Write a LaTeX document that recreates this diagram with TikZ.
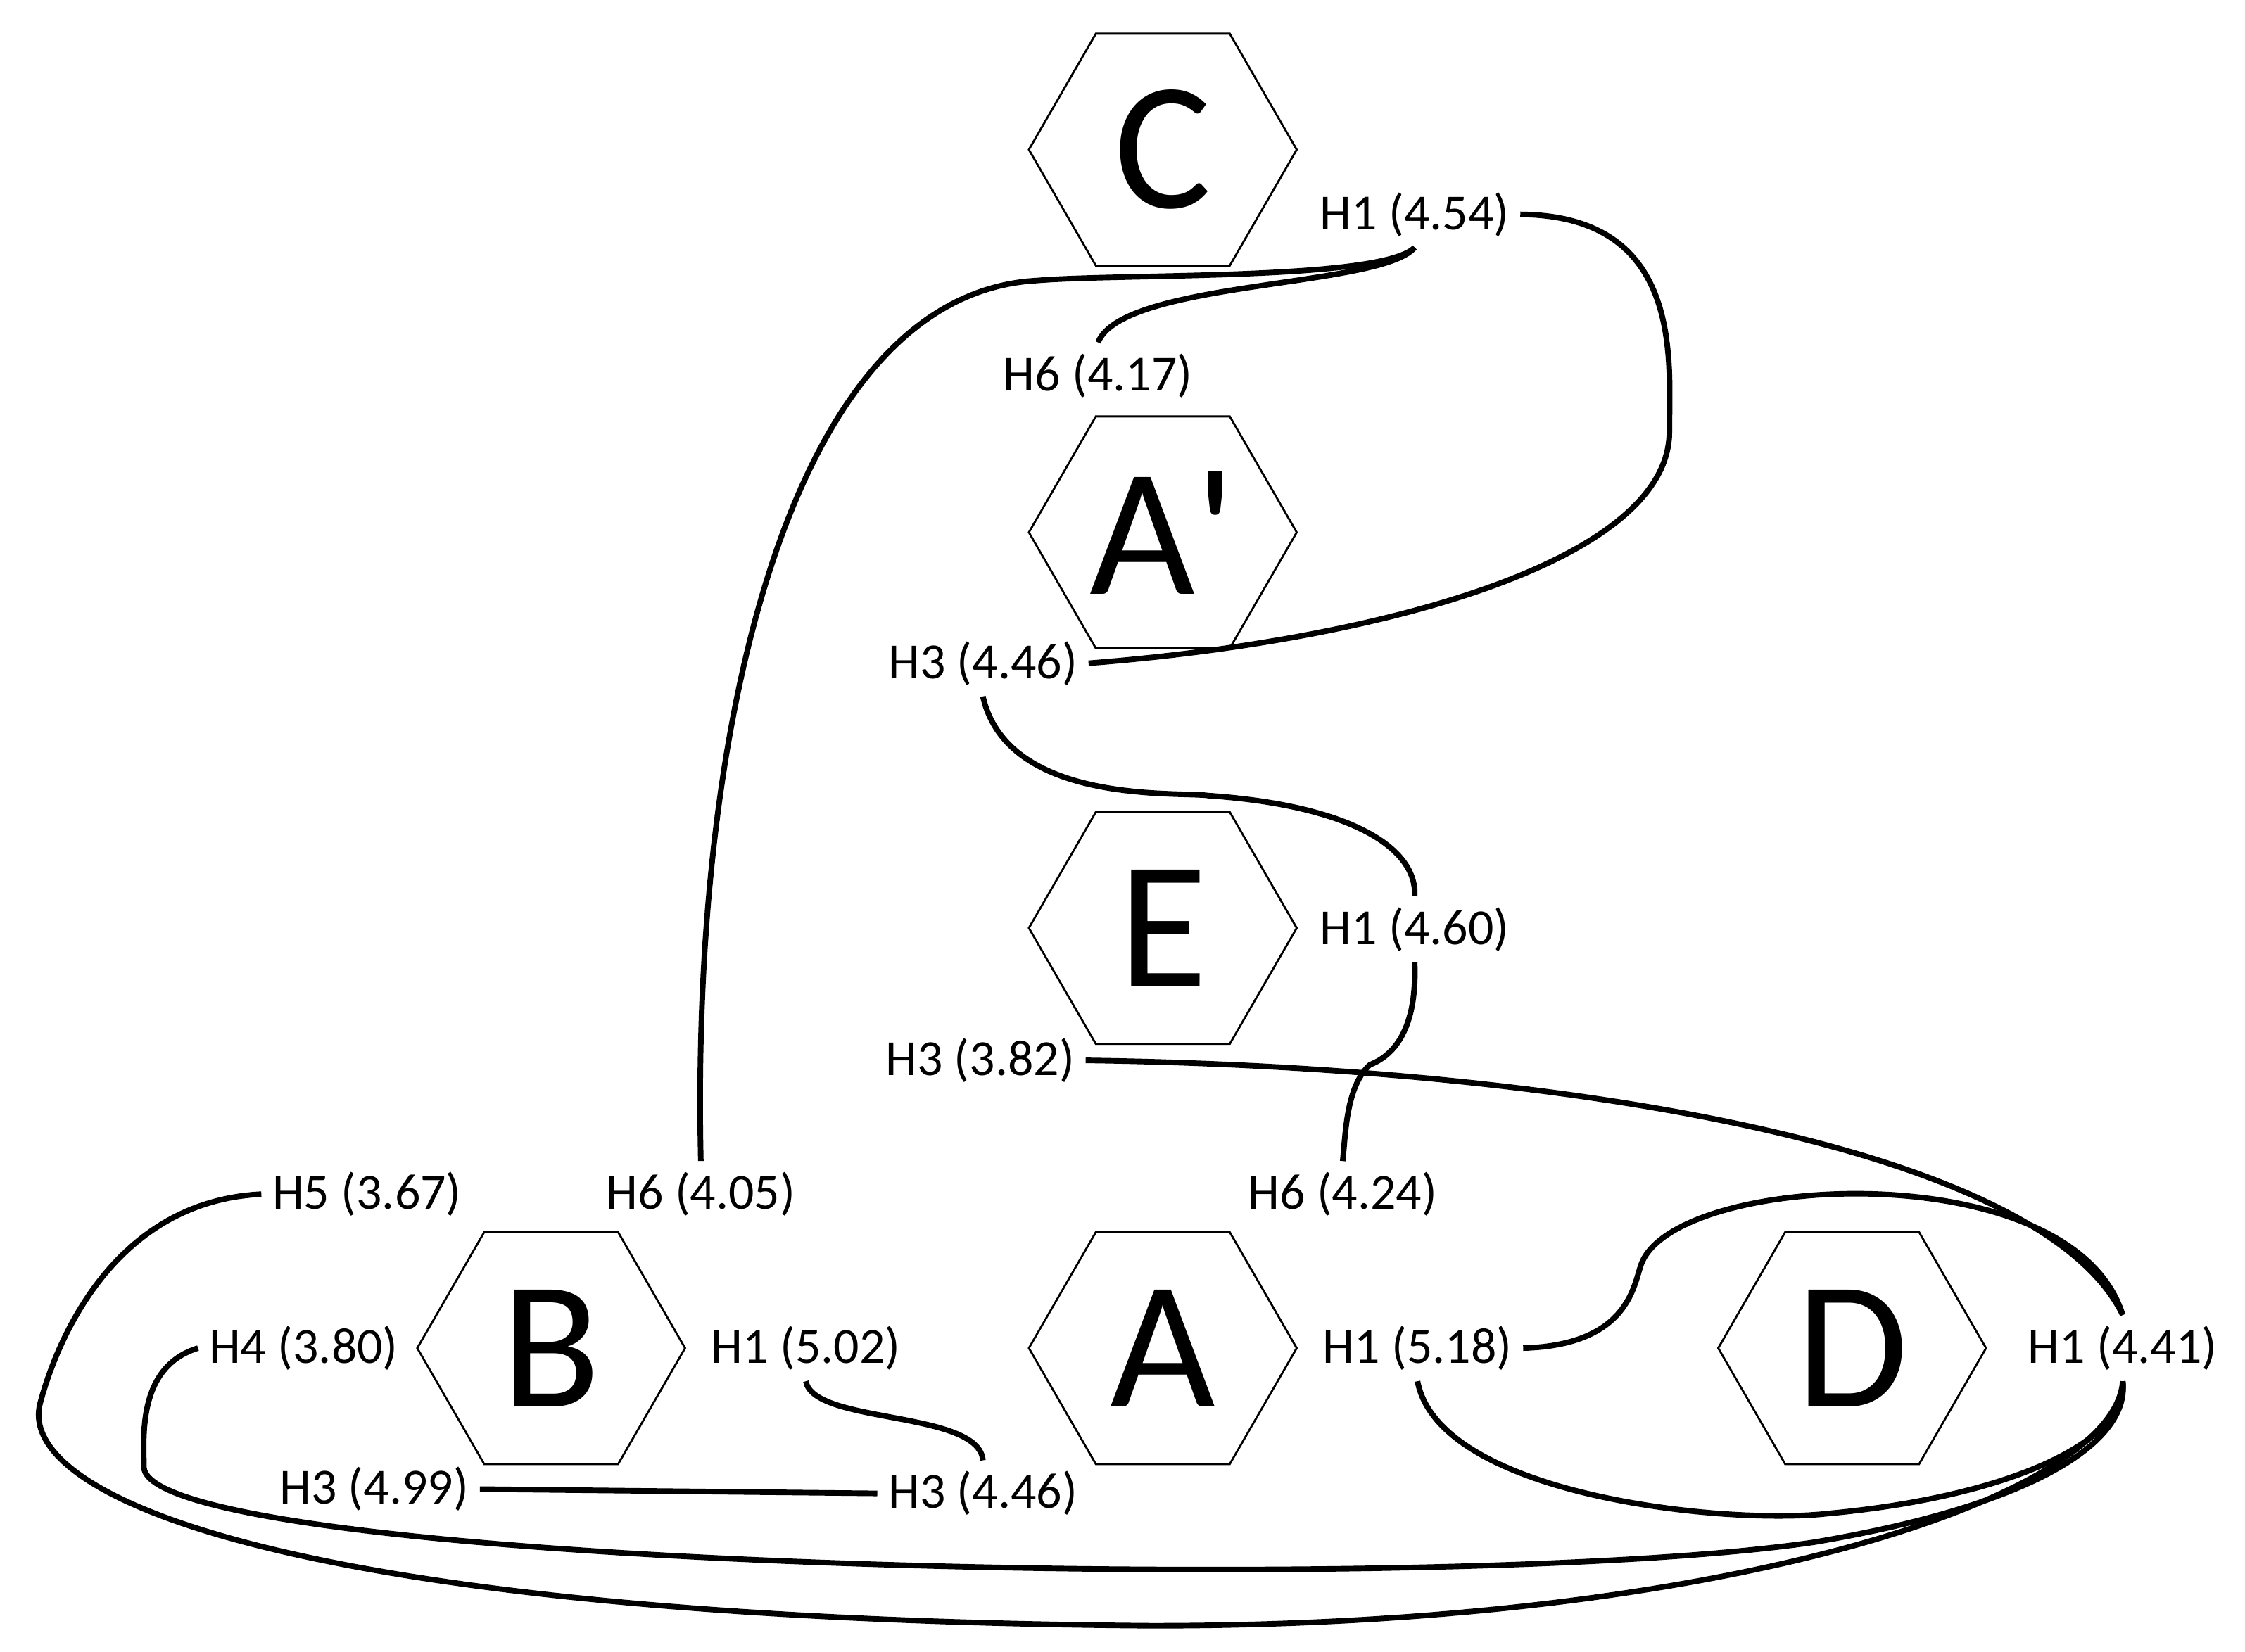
\documentclass[tikz,border=0pt]{standalone}
\usepackage{fontspec}
\setmainfont{Carlito}
\usetikzlibrary{shapes.geometric}
\begin{document}
\begin{tikzpicture}
[x=0.01cm,y=-0.01cm,
ringnode/.style={regular polygon,regular polygon sides=6,draw,thin,
minimum size=1.86cm,inner sep=0pt,font=\fontsize{36pt}{36pt}\selectfont},
hnode/.style={inner sep=2pt,font=\fontsize{10pt}{12pt}\selectfont},
noe/.style={line width=1.1pt}
]
\useasboundingbox (0,0) rectangle (1560,1148);
% rings
\node [ringnode] (C) at (808,104) {C};
\node [ringnode] (Ap) at (808,370) {A\textquotesingle};
\node [ringnode] (E) at (808,645) {E};
\node [ringnode] (B) at (383,937) {B};
\node [ringnode] (A) at (808,937) {A};
\node [ringnode] (D) at (1287,937) {D};
% protons
\node [hnode] (C1) at (983,149) {H1 (4.54)};
\node [hnode] (Ap6) at (763,261) {H6 (4.17)};
\node [hnode] (Ap3) at (683,461) {H3 (4.46)};
\node [hnode] (E1) at (983,646) {H1 (4.60)};
\node [hnode] (E3) at (681,737) {H3 (3.82)};
\node [hnode] (B5) at (255,830) {H5 (3.67)};
\node [hnode] (B6) at (487,830) {H6 (4.05)};
\node [hnode] (A6) at (933,830) {H6 (4.24)};
\node [hnode] (B4) at (211,937) {H4 (3.80)};
\node [hnode] (B1) at (560,937) {H1 (5.02)};
\node [hnode] (A1) at (985,937) {H1 (5.18)};
\node [hnode] (D1) at (1475,937) {H1 (4.41)};
\node [hnode] (B3) at (260,1035) {H3 (4.99)};
\node [hnode] (A3) at (683,1038) {H3 (4.46)};
% contacts
\draw [noe] (C1.east) .. controls (1170,150) and (1160,250) .. (1160,300)
.. controls (1160,390) and (960,445) .. (Ap3.east);
\draw [noe] (C1.south) .. controls (960,200) and (780,195) .. (Ap6.north);
\draw [noe] (C1.south) .. controls (960,195) and (780,190) .. (720,195)
.. controls (550,205) and (480,500) .. (B6.north);
\draw [noe] (Ap3.south) .. controls (700,560) and (820,550) .. (840,553)
.. controls (940,560) and (985,590) .. (E1.north);
\draw [noe] (E1.south) .. controls (985,720) and (965,735) .. (952,740)
.. controls (935,755) and (935,790) .. (A6.north);
\draw [noe] (E3.east) .. controls (1100,742) and (1420,800) .. (D1.north);
\draw [noe] (A1.east) .. controls (1130,935) and (1135,895) .. (1140,880)
.. controls (1160,815) and (1440,800) .. (D1.north);
\draw [noe] (A1.south) .. controls (1000,1040) and (1200,1060) .. (1270,1052)
.. controls (1400,1040) and (1480,1000) .. (D1.south);
\draw [noe] (B4.west) .. controls (95,950) and (100,1000) .. (100,1020)
.. controls (105,1090) and (1000,1110) .. (1260,1072)
.. controls (1420,1045) and (1480,1000) .. (D1.south);
\draw [noe] (B5.west) .. controls (80,835) and (40,930) .. (28,975)
.. controls (10,1040) and (200,1125) .. (800,1130)
.. controls (1200,1130) and (1470,1040) .. (D1.south);
\draw [noe] (B3.east) -- (A3.west);
\draw [noe] (B1.south) .. controls (565,990) and (680,980) .. (A3.north);
\end{tikzpicture}
\end{document}
